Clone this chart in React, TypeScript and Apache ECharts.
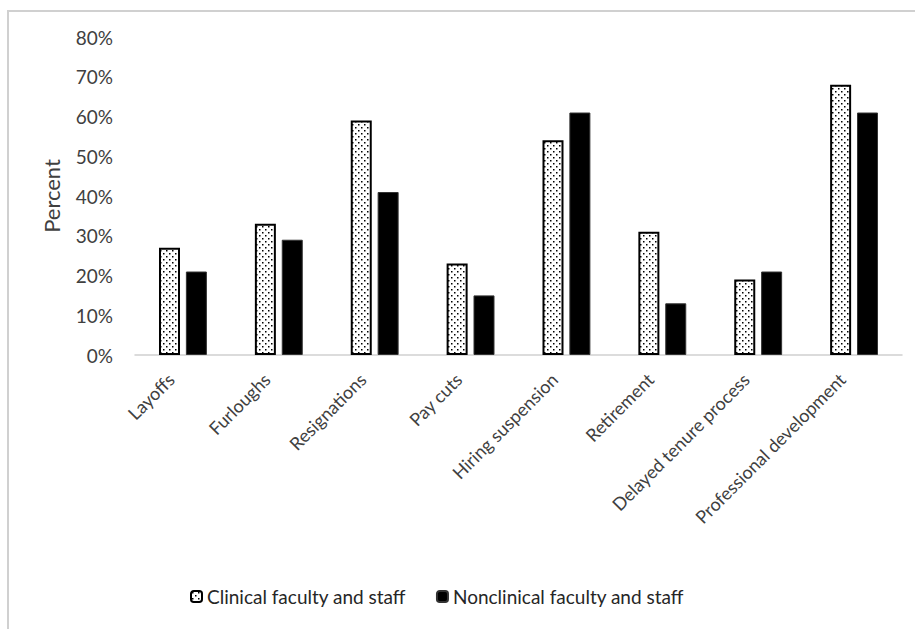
import React, { useEffect, useRef } from "react";
import * as echarts from "echarts";

const categories = [
  "Layoffs",
  "Furloughs",
  "Resignations",
  "Pay cuts",
  "Hiring suspension",
  "Retirement",
  "Delayed tenure process",
  "Professional development",
];
const clinical = [27, 33, 59, 23, 54, 31, 19, 68];
const nonclinical = [21, 29, 41, 15, 61, 13, 21, 61];
const yTicks = [0, 10, 20, 30, 40, 50, 60, 70, 80];
const seriesNames = ["Clinical faculty and staff", "Nonclinical faculty and staff"];

function makeDots(): HTMLCanvasElement {
  const c = document.createElement("canvas");
  c.width = 6;
  c.height = 6;
  const ctx = c.getContext("2d")!;
  ctx.fillStyle = "#ffffff";
  ctx.fillRect(0, 0, 6, 6);
  ctx.fillStyle = "#000000";
  ctx.fillRect(1, 1, 1.5, 1.5);
  ctx.fillRect(4, 4, 1.5, 1.5);
  return c;
}

export default function App() {
  const ref = useRef<HTMLDivElement>(null);
  useEffect(() => {
    if (!ref.current) return;
    const chart = echarts.init(ref.current, null, { renderer: "svg" });
    const font = "Lato, 'Noto Sans', sans-serif";
    const pattern = { image: makeDots(), repeat: "repeat" };
    chart.setOption({
      animation: false,
      backgroundColor: "#ffffff",
      textStyle: { fontFamily: font },
      graphic: [
        {
          type: "rect",
          shape: { x: 8, y: 11, width: 930, height: 640 },
          style: { fill: "none", stroke: "#d0d0d0", lineWidth: 2 },
          silent: true,
        },
      ],
      grid: { left: 135, right: 13, top: 37, bottom: 274, containLabel: false },
      legend: {
        bottom: 18,
        left: 185,
        itemWidth: 11,
        itemHeight: 11,
        itemGap: 30,
        textStyle: { fontSize: 19, color: "#262626", fontFamily: font },
        data: seriesNames,
      },
      xAxis: {
        type: "category",
        data: categories,
        axisLine: { lineStyle: { color: "#d0d0d0", width: 1.5 } },
        axisTick: { show: false },
        axisLabel: {
          rotate: 45,
          interval: 0,
          margin: 22,
          fontSize: 18,
          color: "#404040",
          fontFamily: font,
          verticalAlign: "bottom",
          padding: [0, 8, 0, 0],
        },
      },
      yAxis: {
        type: "value",
        min: 0,
        max: 80,
        interval: 10,
        name: "Percent",
        nameLocation: "middle",
        nameGap: 73,
        nameTextStyle: { fontSize: 22, color: "#404040", fontFamily: font },
        splitLine: { show: false },
        axisLine: { show: false },
        axisTick: { show: false },
        axisLabel: {
          margin: 22,
          fontSize: 19,
          color: "#404040",
          fontFamily: font,
          formatter: (v: number) => (yTicks.includes(v) ? v + "%" : ""),
        },
      },
      series: [
        {
          name: seriesNames[0],
          type: "bar",
          data: clinical,
          barWidth: 21,
          barGap: "28%",
          itemStyle: { color: pattern, borderColor: "#000000", borderWidth: 2 },
        },
        {
          name: seriesNames[1],
          type: "bar",
          data: nonclinical,
          barWidth: 21,
          itemStyle: { color: "#000000", borderColor: "#333333", borderWidth: 1 },
        },
      ],
    });
    return () => chart.dispose();
  }, []);
  return (
    <div
      ref={ref}
      style={{ position: "fixed", left: 0, top: 0, width: 915, height: 629, background: "#fff" }}
    />
  );
}
